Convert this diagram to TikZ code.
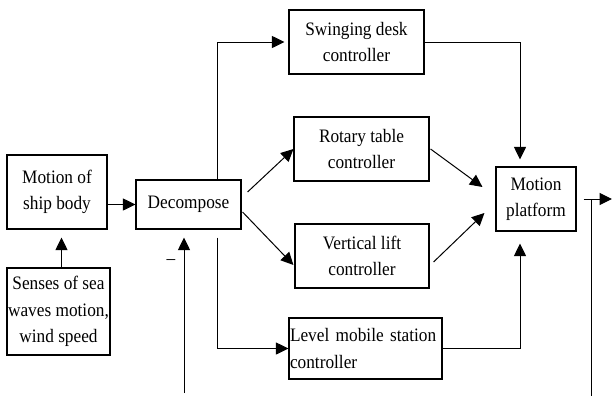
\documentclass[tikz,border=0pt]{standalone}
\usepackage{fontspec}
\setmainfont{Liberation Serif}[FakeStretch=0.91]
\usetikzlibrary{arrows.meta,calc}

\begin{document}
\begin{tikzpicture}[x=1pt,y=-1pt,
  every node/.style={font=\fontsize{19}{26.5}\selectfont},
  blk/.style={draw, line width=1.1pt, inner sep=0pt, align=center},
  arr/.style={line width=1pt, -{Triangle[length=12.5pt,width=12pt]}},
  ln/.style={line width=1pt}]
\useasboundingbox (0,0) rectangle (612,399);

% blocks
\node[blk, minimum width=100pt, minimum height=74pt] (ship) at (57,192) {Motion of\\ship body};
\node[blk, minimum width=103pt, minimum height=87pt] (sense) at (58.5,311.5) {Senses of sea\\waves motion,\\wind speed};
\node[blk, minimum width=105pt, minimum height=49pt] (dec) at (188.5,204.5) {Decompose};
\node[blk, minimum width=135pt, minimum height=64pt] (sw) at (356.5,42) {Swinging desk\\controller};
\node[blk, minimum width=135pt, minimum height=64pt] (rot) at (361.5,149) {Rotary table\\controller};
\node[blk, minimum width=134pt, minimum height=64pt] (vert) at (362,256) {Vertical lift\\controller};
\node[blk, minimum width=153pt, minimum height=61pt, align=left, text width=151pt] (lvl) at (365.5,348.5) {Level mobile station\\controller};
\node[blk, minimum width=80pt, minimum height=64pt] (mp) at (536,199) {Motion\\platform};

% free ends
\coordinate (fb) at (184,393);
\coordinate (out) at (612,199);
\coordinate (tap) at (591,199);
\coordinate (tapend) at (591,396);

% connectors
\draw[arr] (ship.east |- dec.west) -- (dec.west);
\draw[arr, shorten >=8pt] ([xshift=3pt]sense.north) -- ([xshift=3pt]sense.north |- ship.south);
\draw[arr, shorten >=4pt] ([xshift=28.5pt]dec.north) |- (sw.west);
\draw[arr] ([shift={(6,-12.5)}]dec.east) -- (rot.west);
\draw[arr] ([shift={(1,7.5)}]dec.east) -- ([shift={(-1,9)}]vert.west);
\draw[arr] ([shift={(1,0)}]rot.east) -- ([shift={(-13,-12)}]mp.west);
\draw[arr] ([shift={(4,6)}]vert.east) -- ([shift={(-11,14)}]mp.west);
\draw[arr, shorten >=7pt] (sw.east) -| ([xshift=-16pt]mp.north);
\draw[arr, shorten >=12pt] (lvl.east) -| ([xshift=-16pt]mp.south);
\draw[arr] ([shift={(28.5,8)}]dec.south) |- (lvl.west);
\draw[arr, shorten >=8pt] (fb) -- (fb |- dec.south);
\draw[arr, shorten <=7pt] (mp.east) -- (out);
\draw[ln] (tap) -- (tapend);

% sign at the summing input
\node (minus) at (171,262) {–};
\end{tikzpicture}
\end{document}
